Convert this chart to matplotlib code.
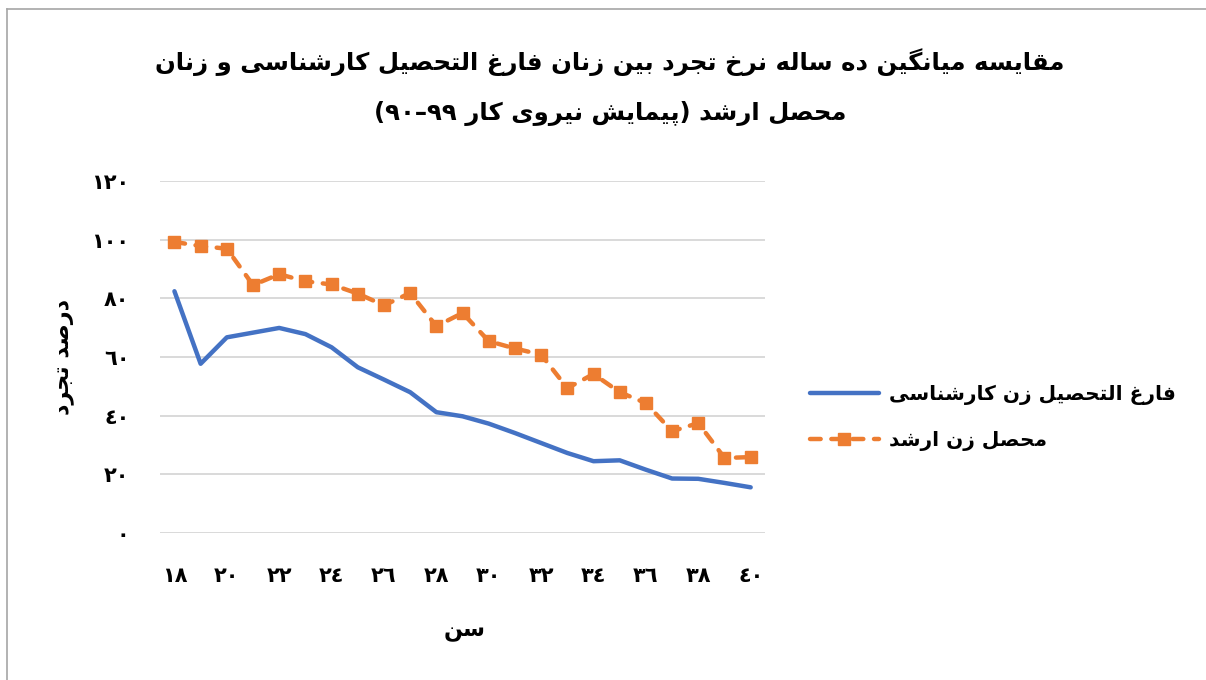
import re
import matplotlib
matplotlib.use('Agg')
import matplotlib.pyplot as plt
from matplotlib.lines import Line2D

# data
ages = list(range(18, 41))
bachelor = [82.4, 57.7, 66.7, 68.3, 69.9, 67.8, 63.3, 56.5, 52.3, 48.0, 41.2, 39.8,
            37.3, 34.1, 30.7, 27.3, 24.5, 24.8, 21.6, 18.6, 18.5, 17.1, 15.6]
master = [99.2, 97.8, 96.9, 84.5, 88.2, 85.8, 84.7, 81.6, 77.6, 81.8, 70.5, 75.0,
          65.4, 62.9, 60.8, 49.4, 54.2, 48.0, 44.3, 34.7, 37.5, 25.6, 25.9]
xticks = list(range(18, 41, 2))
yticks = [0, 20, 40, 60, 80, 100, 120]

title1 = 'مقایسه میانگین ده ساله نرخ تجرد بین زنان فارغ التحصیل کارشناسی و زنان'
title2 = 'محصل ارشد (پیمایش نیروی کار ۹۰–۹۹)'
xlab = 'سن'
ylab = 'درصد تجرد'
lab1 = 'فارغ التحصیل زن کارشناسی'
lab2 = 'محصل زن ارشد'

# --- simple arabic shaping (no arabic_reshaper available) ---
FORMS = {
    '\u0627': ('\uFE8D', '\uFE8E', None, None),
    '\u0628': ('\uFE8F', '\uFE90', '\uFE91', '\uFE92'),
    '\u067E': ('\uFB56', '\uFB57', '\uFB58', '\uFB59'),
    '\u062A': ('\uFE95', '\uFE96', '\uFE97', '\uFE98'),
    '\u062C': ('\uFE9D', '\uFE9E', '\uFE9F', '\uFEA0'),
    '\u062D': ('\uFEA1', '\uFEA2', '\uFEA3', '\uFEA4'),
    '\u062E': ('\uFEA5', '\uFEA6', '\uFEA7', '\uFEA8'),
    '\u062F': ('\uFEA9', '\uFEAA', None, None),
    '\u0631': ('\uFEAD', '\uFEAE', None, None),
    '\u0632': ('\uFEAF', '\uFEB0', None, None),
    '\u0633': ('\uFEB1', '\uFEB2', '\uFEB3', '\uFEB4'),
    '\u0634': ('\uFEB5', '\uFEB6', '\uFEB7', '\uFEB8'),
    '\u0635': ('\uFEB9', '\uFEBA', '\uFEBB', '\uFEBC'),
    '\u063A': ('\uFECD', '\uFECE', '\uFECF', '\uFED0'),
    '\u0641': ('\uFED1', '\uFED2', '\uFED3', '\uFED4'),
    '\u0642': ('\uFED5', '\uFED6', '\uFED7', '\uFED8'),
    '\u06A9': ('\uFB8E', '\uFB8F', '\uFB90', '\uFB91'),
    '\u06AF': ('\uFB92', '\uFB93', '\uFB94', '\uFB95'),
    '\u0644': ('\uFEDD', '\uFEDE', '\uFEDF', '\uFEE0'),
    '\u0645': ('\uFEE1', '\uFEE2', '\uFEE3', '\uFEE4'),
    '\u0646': ('\uFEE5', '\uFEE6', '\uFEE7', '\uFEE8'),
    '\u0647': ('\uFEE9', '\uFEEA', '\uFEEB', '\uFEEC'),
    '\u0648': ('\uFEED', '\uFEEE', None, None),
    '\u06CC': ('\uFBFC', '\uFBFD', '\uFBFE', '\uFBFF'),
}
DIG = {chr(0x06F0 + i): chr(0x0660 + i) for i in range(10)}
MIRROR = {'(': ')', ')': '('}


def dual(c):
    return c in FORMS and FORMS[c][2] is not None


def shape(s):
    s = s.replace('\u064A', '\u06CC').replace('\u0643', '\u06A9')
    s = ''.join(DIG.get(c, c) for c in s)
    out = []
    for i, c in enumerate(s):
        if c not in FORMS:
            out.append(c)
            continue
        prev = s[i - 1] if i > 0 else ''
        nxt = s[i + 1] if i + 1 < len(s) else ''
        jp = dual(prev)
        jn = dual(c) and nxt in FORMS
        f = FORMS[c]
        if jp and jn:
            out.append(f[3])
        elif jp:
            out.append(f[1])
        elif jn:
            out.append(f[2])
        else:
            out.append(f[0])
    return ''.join(out)


def fa(s):
    s = shape(s)
    parts = re.split('([\u0660-\u0669]+(?:[-\u2013][\u0660-\u0669]+)*)', s)
    res = []
    for p in parts[::-1]:
        if p and p[0] in '\u0660\u0661\u0662\u0663\u0664\u0665\u0666\u0667\u0668\u0669':
            res.append(p)
        else:
            res.append(''.join(MIRROR.get(c, c) for c in p[::-1]))
    return ''.join(res)


def fa_num(n):
    return ''.join(chr(0x0660 + int(d)) for d in str(n))


plt.rcParams['font.family'] = ['DejaVu Sans']
plt.rcParams['font.weight'] = 'bold'

fig = plt.figure(figsize=(12.06, 6.8), dpi=100)
ax = fig.add_axes([0.1327, 0.216, 0.5017, 0.518])

ax.plot(ages, bachelor, color='#4472C4', linewidth=3.2, solid_capstyle='round',
        label=fa(lab1))
ax.plot(ages, master, color='#ED7D31', linewidth=3.2, linestyle=(0, (2.4, 2.4)),
        dash_capstyle='round', marker='s', markersize=8.5, label=fa(lab2))

ax.set_xlim(17.45, 40.55)
ax.set_ylim(0, 120)
ax.set_xticks(xticks)
ax.set_xticklabels([fa_num(v) for v in xticks], fontsize=15, fontweight='bold')
ax.set_yticks(yticks)
ax.set_yticklabels([fa_num(v) for v in yticks], fontsize=15, fontweight='bold')
ax.tick_params(axis='x', length=0, pad=24)
ax.tick_params(axis='y', length=0, pad=22)
ax.grid(axis='y', color='#D9D9D9', linewidth=1.4)
ax.set_axisbelow(True)
for s in ax.spines.values():
    s.set_visible(False)

fig.text(465 / 1206, 1 - 632 / 680, fa(xlab), ha='center', va='center', fontsize=16,
         fontweight='bold')
fig.text(65 / 1206, 1 - 357 / 680, fa(ylab), ha='center', va='center', rotation=90,
         fontsize=16, fontweight='bold')
fig.text(610 / 1206, 1 - 62 / 680, fa(title1), ha='center', va='center', fontsize=17.6,
         fontweight='bold')
fig.text(610 / 1206, 1 - 113 / 680, fa(title2), ha='center', va='center', fontsize=17.6,
         fontweight='bold')

fig.legend(loc='center left', bbox_to_anchor=(792 / 1206, 1 - 418 / 680), frameon=False,
           fontsize=14.5, handlelength=3.4, labelspacing=1.3, handletextpad=0.5)

# chart border
fig.add_artist(Line2D([7 / 1206, 7 / 1206], [0, 1 - 9 / 680], color='#A6A6A6', linewidth=1.2))
fig.add_artist(Line2D([7 / 1206, 1], [1 - 9 / 680, 1 - 9 / 680], color='#A6A6A6', linewidth=1.2))

fig.savefig('out.png', dpi=100)
